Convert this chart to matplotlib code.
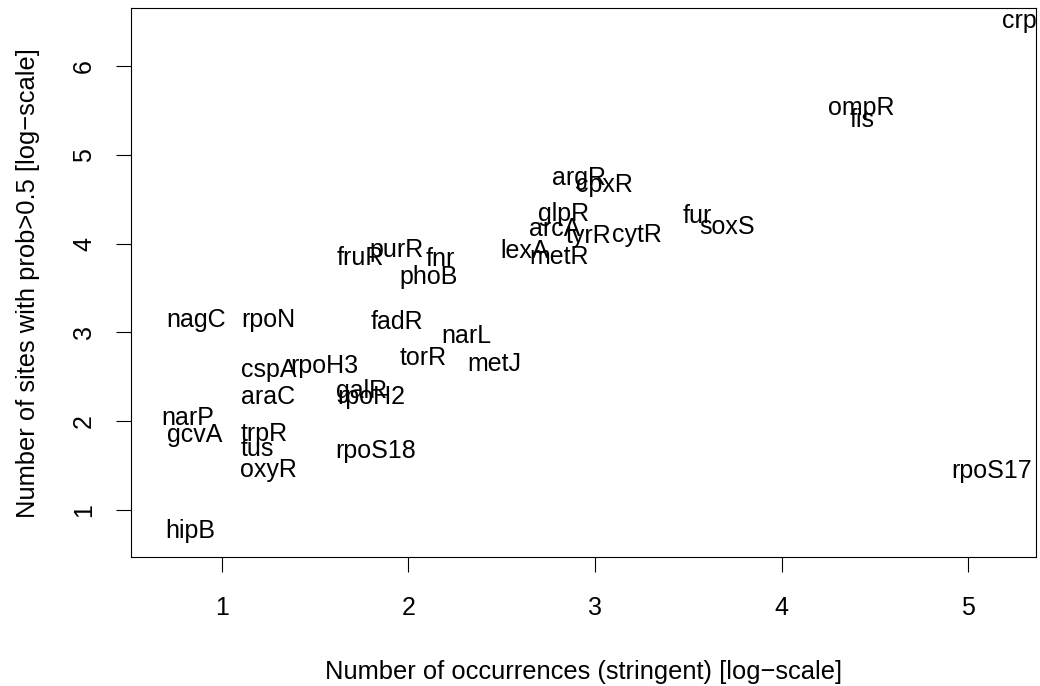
import matplotlib
matplotlib.use("Agg")
import matplotlib.pyplot as plt
import matplotlib.transforms as mtransforms

plt.rcParams['font.family'] = ['Liberation Sans', 'DejaVu Sans']

labels = ["crp", "ompR", "fis", "argR", "cpxR", "glpR", "fur", "soxS", "arcA",
          "tyrR", "cytR", "lexA", "metR", "fruR", "purR", "fnr", "phoB", "nagC",
          "rpoN", "fadR", "narL", "torR", "metJ", "cspA", "rpoH3", "galR", "rpoH2",
          "araC", "narP", "gcvA", "trpR", "tus", "oxyR", "rpoS18", "rpoS17", "hipB"]
occurrences = [5.273, 4.426, 4.433, 2.916, 3.049, 2.834, 3.546, 3.706, 2.785,
               2.963, 3.224, 2.624, 2.808, 1.745, 1.938, 2.170, 2.109, 0.865,
               1.248, 1.939, 2.309, 2.079, 2.459, 1.250, 1.548, 1.750, 1.800,
               1.248, 0.819, 0.854, 1.227, 1.191, 1.251, 1.826, 5.125, 0.833]
sites = [6.529, 5.550, 5.414, 4.761, 4.682, 4.356, 4.333, 4.209, 4.181,
         4.108, 4.114, 3.939, 3.875, 3.860, 3.950, 3.843, 3.650, 3.162,
         3.162, 3.134, 2.982, 2.734, 2.667, 2.599, 2.644, 2.363, 2.295,
         2.295, 2.062, 1.867, 1.882, 1.704, 1.473, 1.687, 1.462, 0.786]

xticks = [1, 2, 3, 4, 5]
yticks = [1, 2, 3, 4, 5, 6]
xlabel = "Number of occurrences (stringent) [log\u2212scale]"
ylabel = "Number of sites with prob>0.5 [log\u2212scale]"

FS = 18
fig = plt.figure(figsize=(10.4, 6.86), dpi=100)
ax = fig.add_axes([130.7 / 1040, 1 - 557.3 / 686, (1035.5 - 130.7) / 1040, (557.3 - 8.3) / 686])
ax.set_xlim(0.512, 5.361)
ax.set_ylim(0.467, 6.650)

# R centres text on half the cap height: shift baseline down
cap_half = 0.716 * FS / 2
trans = mtransforms.offset_copy(ax.transData, fig=fig, x=0, y=-cap_half, units='points')
for lab, xv, yv in zip(labels, occurrences, sites):
    ax.text(xv, yv, lab, transform=trans, ha='center', va='baseline',
            fontsize=FS, color='black', clip_on=True)

for s in ax.spines.values():
    s.set_color('black')
    s.set_linewidth(0.8)

ax.set_xticks(xticks)
ax.set_xticklabels([str(t) for t in xticks])
ax.set_yticks(yticks)
ax.set_yticklabels([str(t) for t in yticks], rotation=90, va='center')
ax.tick_params(axis='both', direction='out', length=11, width=0.8, color='black',
               labelsize=FS, labelcolor='black')
ax.tick_params(axis='x', pad=17)
ax.tick_params(axis='y', pad=14)

fig.text(0.5 * (130.7 + 1035.5) / 1040, 1 - 672 / 686, xlabel, ha='center', va='center',
         fontsize=18.4)
fig.text(28 / 1040, 1 - (8.3 + 557.3) / 2 / 686, ylabel, ha='center', va='center',
         rotation=90, fontsize=18.4)

fig.savefig("out.png", dpi=100)
